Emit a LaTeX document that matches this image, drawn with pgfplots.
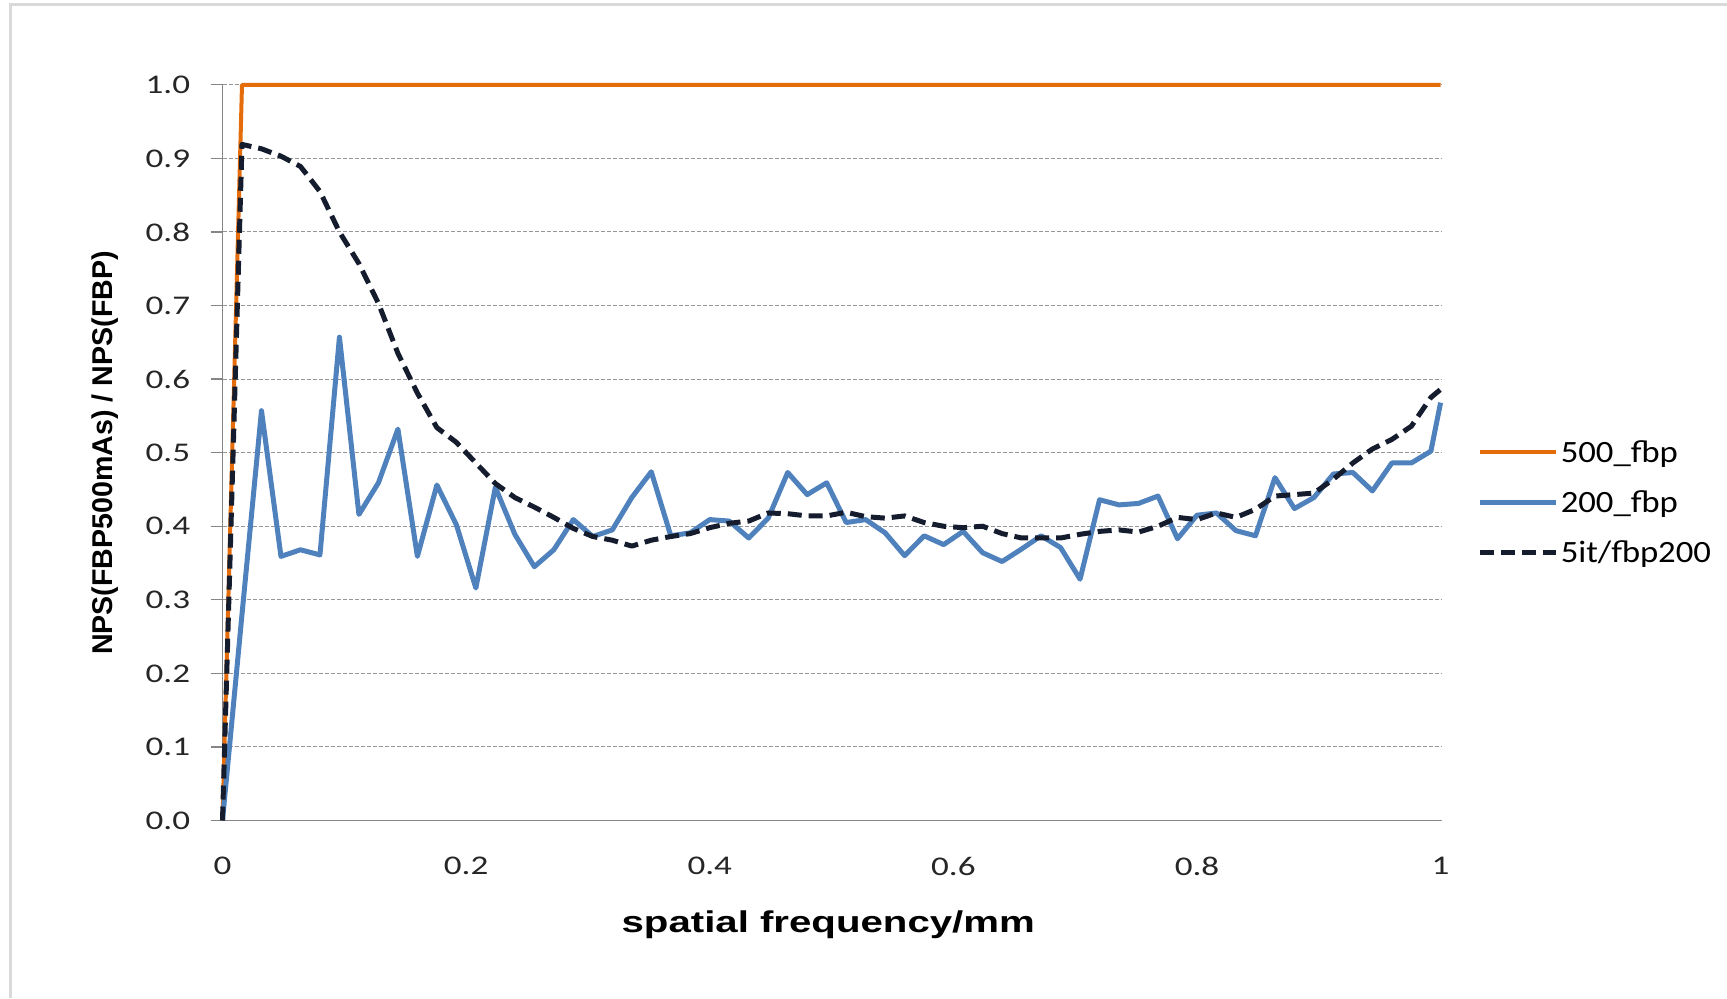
\documentclass[border=0pt]{standalone}
\usepackage{pgfplots}
\pgfplotsset{compat=1.18}
\usepackage{pgfplotstable}
\usepackage{fontspec}
\setmainfont{Carlito}
\newfontfamily\arialf{Liberation Sans}
\definecolor{cOrange}{RGB}{228,108,10}
\definecolor{cBlue}{RGB}{79,129,189}
\definecolor{cDash}{RGB}{20,28,45}
\definecolor{cGrid}{RGB}{150,150,150}
\definecolor{cAxis}{RGB}{134,134,134}
\definecolor{cFrame}{RGB}{217,217,217}

\pgfplotstableread{
x a b c
0.000 0 0.000 0.000
0.016 1 0.280 0.919
0.032 1 0.557 0.913
0.048 1 0.359 0.903
0.064 1 0.368 0.889
0.080 1 0.361 0.855
0.096 1 0.657 0.800
0.112 1 0.416 0.757
0.128 1 0.459 0.703
0.144 1 0.532 0.635
0.160 1 0.359 0.581
0.176 1 0.456 0.534
0.192 1 0.402 0.514
0.208 1 0.316 0.486
0.224 1 0.453 0.458
0.240 1 0.389 0.439
0.256 1 0.345 0.426
0.272 1 0.368 0.412
0.288 1 0.409 0.397
0.304 1 0.386 0.386
0.320 1 0.395 0.381
0.336 1 0.439 0.373
0.352 1 0.474 0.381
0.368 1 0.387 0.386
0.384 1 0.391 0.390
0.400 1 0.409 0.398
0.416 1 0.407 0.404
0.432 1 0.384 0.407
0.448 1 0.411 0.418
0.464 1 0.473 0.417
0.480 1 0.443 0.414
0.496 1 0.459 0.414
0.512 1 0.405 0.419
0.528 1 0.409 0.413
0.544 1 0.391 0.411
0.560 1 0.360 0.414
0.576 1 0.387 0.405
0.592 1 0.375 0.400
0.608 1 0.393 0.398
0.624 1 0.364 0.400
0.640 1 0.352 0.390
0.656 1 0.369 0.384
0.672 1 0.387 0.384
0.688 1 0.371 0.384
0.704 1 0.328 0.389
0.720 1 0.436 0.393
0.736 1 0.429 0.395
0.752 1 0.431 0.392
0.768 1 0.441 0.400
0.784 1 0.383 0.412
0.800 1 0.415 0.409
0.816 1 0.418 0.418
0.832 1 0.394 0.412
0.848 1 0.387 0.423
0.864 1 0.466 0.441
0.880 1 0.424 0.443
0.896 1 0.439 0.445
0.912 1 0.471 0.464
0.928 1 0.473 0.486
0.944 1 0.448 0.505
0.960 1 0.486 0.518
0.976 1 0.486 0.536
0.992 1 0.502 0.575
1.000 1 0.568 0.586
}\datatable

\begin{document}
\begin{tikzpicture}
\useasboundingbox (0pt,0pt) rectangle (863.5pt,499pt);
\draw[cFrame, line width=1.5pt] (5pt,0pt) -- (5pt,496.5pt) -- (864pt,496.5pt);
\begin{axis}[
  at={(111.25pt,88.75pt)}, anchor=south west,
  scale only axis, width=609.05pt, height=367.85pt,
  xmin=0, xmax=1, ymin=0, ymax=1,
  clip=false,
  axis x line*=bottom, axis y line*=left,
  axis line style={cAxis, line width=0.75pt, -},
  xtick={0,0.2,0.4,0.6,0.8,1},
  ytick={0,0.1,0.2,0.3,0.4,0.5,0.6,0.7,0.8,0.9,1},
  xtick style={draw=none},
  ytick style={cAxis, line width=0.6pt},
  tick align=outside,
  major tick length=6pt,
  ymajorgrids,
  grid style={cGrid, line width=0.5pt, dash pattern=on 2pt off 1pt},
  xticklabel={\scalebox{1.3}[1]{\pgfmathprintnumber[assume math mode=true]{\tick}}},
  yticklabel={\scalebox{1.3}[1]{\pgfmathprintnumber[fixed,fixed zerofill,precision=1,assume math mode=true]{\tick}}},
  ticklabel style={font=\fontsize{13.5pt}{16pt}\selectfont, text=black!85},
  yticklabel style={inner sep=0pt, anchor=east, xshift=-10pt},
  xticklabel style={inner sep=0pt, anchor=north, yshift=-12pt},
  xlabel={\scalebox{1.34}[1]{spatial frequency/mm}},
  xlabel style={font=\arialf\bfseries\fontsize{15pt}{18pt}\selectfont, at={(axis description cs:0.4973,-0.1420)}, anchor=center},
  ylabel={NPS(FBP500mAs) / NPS(FBP)},
  ylabel style={font=\arialf\bfseries\fontsize{14.3pt}{17pt}\selectfont, at={(axis description cs:-0.0961,0.4995)}, anchor=center, rotate=0},
  legend cell align=left,
  legend image code/.code={\draw[#1] (0pt,0pt) -- (38pt,0pt);},
  legend style={at={(1.0305,0.4327)}, anchor=west, draw=none, fill=none,
    inner sep=0pt, outer sep=0pt, row sep=11pt,
    font=\fontsize{15.5pt}{18pt}\selectfont,
    nodes={inner sep=0pt, anchor=west, text height=12pt, text depth=2pt},
    /tikz/every odd column/.append style={column sep=1pt}},
]
\addplot[cOrange, line width=2pt, line join=round] table[x=x, y=a]{\datatable};
\addlegendentry{\scalebox{1.12}[1]{500\_fbp}}
\addplot[cBlue, line width=2.5pt, line join=round] table[x=x, y=b]{\datatable};
\addlegendentry{\scalebox{1.12}[1]{200\_fbp}}
\addplot[cDash, line width=2.5pt, dash pattern=on 7pt off 3.5pt, line join=round] table[x=x, y=c]{\datatable};
\addlegendentry{\scalebox{1.12}[1]{5it/fbp200}}
\end{axis}
\end{tikzpicture}
\end{document}
